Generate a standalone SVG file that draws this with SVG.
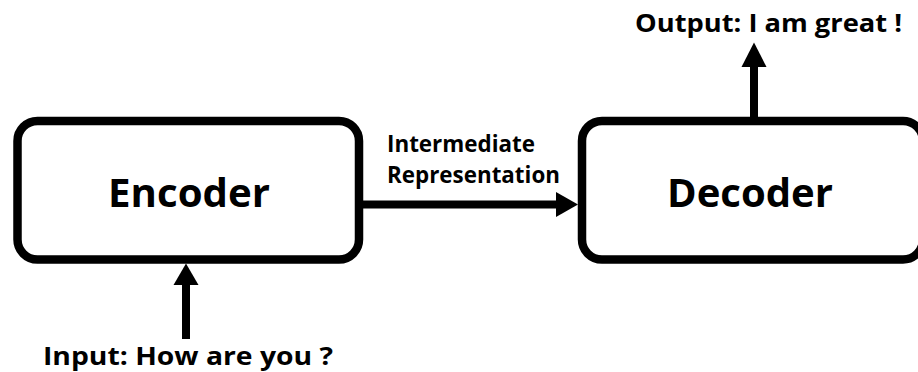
<svg xmlns="http://www.w3.org/2000/svg" width="918" height="372" viewBox="0 0 918 372">
  <style>
    .box { fill: #ffffff; stroke: #000000; stroke-width: 8.5; }
    .edge { stroke: #000000; stroke-width: 8; fill: none; }
    .head { fill: #000000; }
    text { font-family: "Open Sans", "Noto Sans", "Liberation Sans", sans-serif; font-weight: 700; fill: #000000; }
    .title { font-size: 40px; }
    .label { font-size: 25px; }
    .small { font-size: 23.5px; }
  </style>
  <rect width="918" height="372" fill="#ffffff"/>

  <g id="encoder">
    <rect class="box" x="17.5" y="121" width="341.5" height="138.5" rx="20" ry="20"/>
    <text class="title" x="108" y="206.7" textLength="162" lengthAdjust="spacingAndGlyphs">Encoder</text>
  </g>

  <g id="decoder">
    <rect class="box" x="582" y="121" width="341" height="138.5" rx="20" ry="20"/>
    <text class="title" x="667" y="206.7" textLength="166" lengthAdjust="spacingAndGlyphs">Decoder</text>
  </g>

  <g id="input">
    <text class="label" x="43" y="365" textLength="290" lengthAdjust="spacingAndGlyphs">Input: How are you ?</text>
  </g>

  <g id="output">
    <text class="label" x="635" y="31.7" textLength="267" lengthAdjust="spacingAndGlyphs">Output: I am great !</text>
  </g>

  <g id="connectors">
    <!-- input into encoder -->
    <line class="edge" x1="186" y1="339" x2="186" y2="283"/>
    <polygon class="head" points="186,263.5 173.5,285 198.5,285"/>
    <!-- encoder to decoder -->
    <line class="edge" x1="363" y1="204.5" x2="559" y2="204.5"/>
    <polygon class="head" points="578,204.5 556,192 556,217"/>
    <text class="small" x="387" y="151.7" textLength="148" lengthAdjust="spacingAndGlyphs">Intermediate</text>
    <text class="small" x="387" y="183.3" textLength="173" lengthAdjust="spacingAndGlyphs">Representation</text>
    <!-- decoder to output -->
    <line class="edge" x1="754" y1="117" x2="754" y2="64"/>
    <polygon class="head" points="754,42.5 741.5,67 766.5,67"/>
  </g>
</svg>
